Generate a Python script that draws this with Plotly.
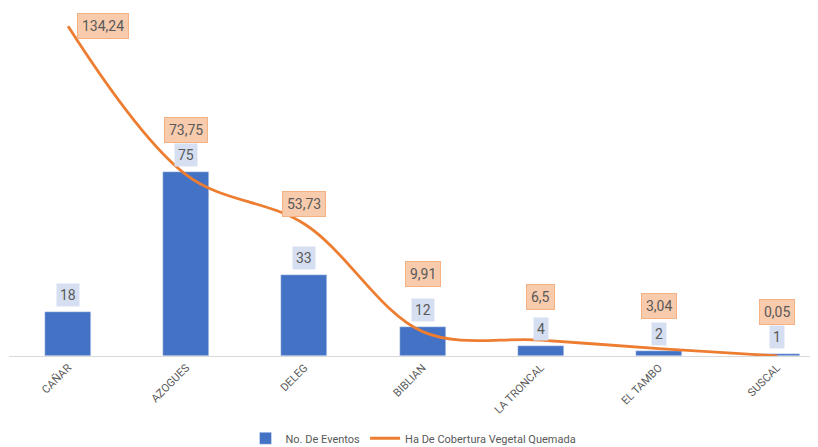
import plotly.graph_objects as go

categories = ["CAÑAR", "AZOGUES", "DELEG", "BIBLIAN", "LA TRONCAL", "EL TAMBO", "SUSCAL"]
eventos = [18, 75, 33, 12, 4, 2, 1]
hectareas = [134.24, 73.75, 53.73, 9.91, 6.5, 3.04, 0.05]

BAR_NAME = "No. De Eventos"
LINE_NAME = "Ha De Cobertura Vegetal Quemada"

BLUE = "#4472C4"
ORANGE = "#ED7D31"
TXT = "#595959"
FONT = "Roboto, sans-serif"

# label offsets (pixels) for the line labels
line_label_yshift = [0, 32, 7, 45, 30, 30, 31]

def fmt(v):
    s = f"{v}"
    return s.replace(".", ",")

fig = go.Figure()
fig.add_trace(go.Bar(
    x=categories, y=eventos, name=BAR_NAME,
    marker=dict(color=BLUE), width=0.39,
))
fig.add_trace(go.Scatter(
    x=categories, y=hectareas, name=LINE_NAME, mode="lines",
    line=dict(color=ORANGE, width=2.8, shape="spline", smoothing=1.0),
))

annotations = []
for c, v in zip(categories, eventos):
    annotations.append(dict(
        x=c, y=v, xref="x", yref="y", text=fmt(v), showarrow=False,
        yanchor="bottom", yshift=5, bgcolor="#D6DFF1", borderpad=3,
        font=dict(family=FONT, size=14, color=TXT),
    ))
for i, (c, v) in enumerate(zip(categories, hectareas)):
    if i == 0:
        annotations.append(dict(
            x=c, y=v, xref="x", yref="y", text=fmt(v), showarrow=False,
            xanchor="left", xshift=9, yanchor="middle",
            bgcolor="#F8CBAD", bordercolor="#F4B183", borderwidth=1, borderpad=4,
            font=dict(family=FONT, size=14, color=TXT),
        ))
    else:
        annotations.append(dict(
            x=c, y=v, xref="x", yref="y", text=fmt(v), showarrow=False,
            yanchor="bottom", yshift=line_label_yshift[i],
            bgcolor="#F8CBAD", bordercolor="#F4B183", borderwidth=1, borderpad=4,
            font=dict(family=FONT, size=14, color=TXT),
        ))

fig.update_layout(
    width=810, height=439,
    margin=dict(l=1, r=0, t=4, b=91, autoexpand=False),
    paper_bgcolor="white", plot_bgcolor="white",
    font=dict(family=FONT, color=TXT, size=11),
    annotations=annotations,
    showlegend=True,
    legend=dict(orientation="h", x=0.5, xanchor="center", y=-0.197, yanchor="top",
                font=dict(family=FONT, size=11, color=TXT)),
    xaxis=dict(range=[-0.5, 6.346], showline=True, linecolor="#D9D9D9", linewidth=1,
               ticks="", tickangle=-45, showgrid=False,
               tickfont=dict(family=FONT, size=11, color=TXT)),
    yaxis=dict(range=[0, 140], showticklabels=False, showgrid=False, zeroline=False,
               showline=False),
    bargap=0,
)

fig.write_html("out.html")
